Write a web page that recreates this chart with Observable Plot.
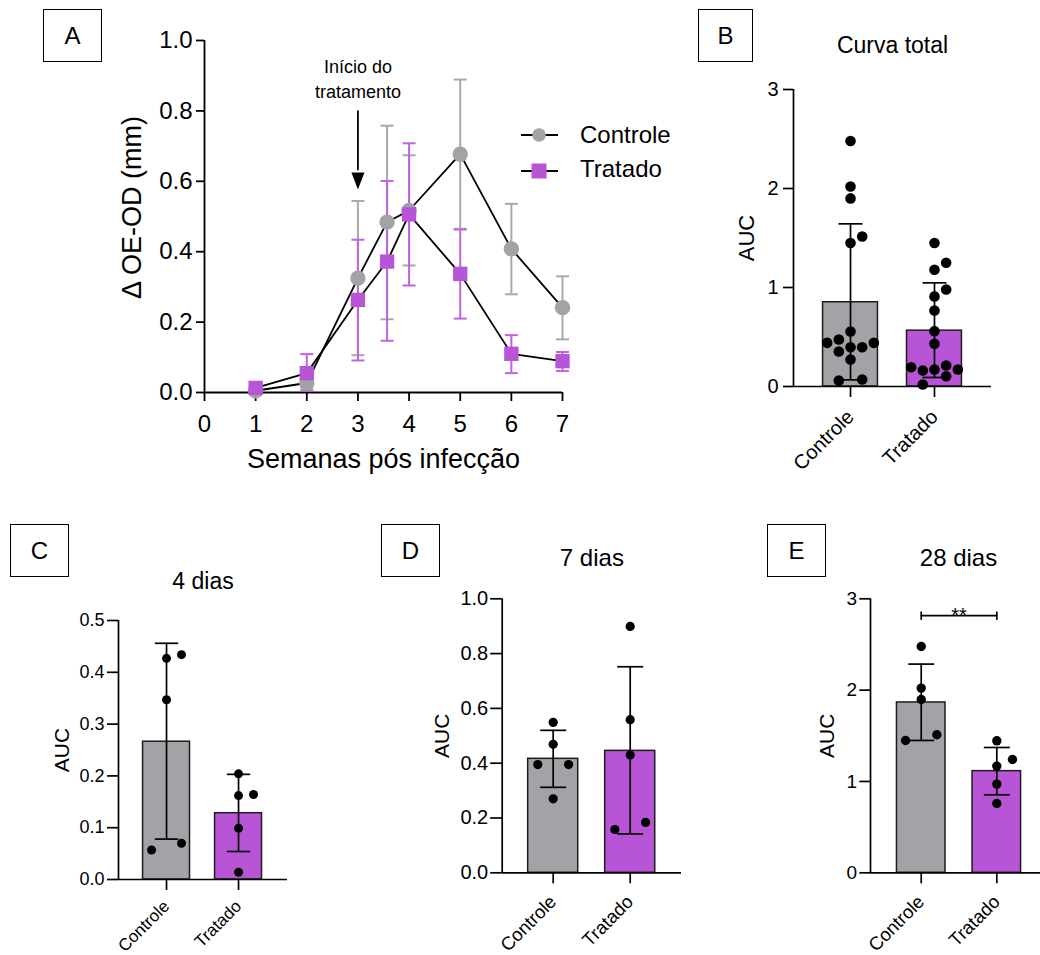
<!DOCTYPE html>
<html><head><meta charset="utf-8">
<script src="https://cdn.jsdelivr.net/npm/d3@7"></script>
<script src="https://cdn.jsdelivr.net/npm/@observablehq/plot@0.6"></script>
<style>
body{margin:0;background:#fff;}
#fig{position:relative;width:1040px;height:955px;font-family:"Liberation Sans",Arial,sans-serif;color:#000;overflow:hidden;}
.box{position:absolute;box-sizing:border-box;border:1.7px solid #000;display:flex;align-items:center;justify-content:center;font-size:24px;line-height:1;}
</style></head><body><div id="fig"></div>
<script>
// ---------- Panel A data (mean and error-bar ends) ----------
const weeks = [1, 2, 3, 3.57, 4, 5, 6, 7];
const controleMean = [0.005, 0.027, 0.325, 0.484, 0.517, 0.677, 0.408, 0.241];
const controleLo   = [0.005, 0.012, 0.106, 0.208, 0.361, 0.465, 0.279, 0.151];
const controleHi   = [0.005, 0.045, 0.544, 0.758, 0.674, 0.889, 0.536, 0.330];
const tratadoMean  = [0.013, 0.055, 0.263, 0.372, 0.506, 0.337, 0.110, 0.089];
const tratadoLo    = [0.013, 0.006, 0.091, 0.147, 0.304, 0.210, 0.055, 0.061];
const tratadoHi    = [0.013, 0.109, 0.434, 0.601, 0.708, 0.463, 0.163, 0.115];
const weekTicks = [0, 1, 2, 3, 4, 5, 6, 7];
const odTicks = [0, 0.2, 0.4, 0.6, 0.8, 1.0];
const seriesNames = ["Controle", "Tratado"];
const xLabelA = "Semanas pós infecção";
const yLabelA = "Δ OE-OD (mm)";
const arrowNote = ["Início do\ntratamento"];
const arrowWeek = [3];
const arrowTop = 0.80, arrowShaftEnd = 0.63, arrowTip = 0.577, noteBase = 0.837;

// ---------- Bar panels ----------
const groups = ["Controle", "Tratado"];
// B: Curva total
const bMean = [0.851, 0.564];
const bLo = [0.067, 0.091];
const bHi = [1.643, 1.047];
const bControle = [2.48, 2.02, 1.90, 1.515, 1.45, 0.556, 0.475, 0.441, 0.441, 0.397, 0.397, 0.354, 0.273, 0.061, 0.071];
const bControleSlot = [0, 0, 0, 1, 0, 0, -1, -2, 2, 0, 1, -1, 0, -1, 1];
const bTratado = [1.45, 1.25, 1.18, 0.98, 0.91, 0.768, 0.559, 0.431, 0.195, 0.162, 0.172, 0.212, 0.172, 0.104, 0.020];
const bTratadoSlot = [0, 1, 0, 1, 0, 0, 0, 0, -2, -1, 0, 1, 2, 1, -1];
// C: 4 dias
const cMean = [0.266, 0.128];
const cLo = [0.078, 0.054];
const cHi = [0.456, 0.203];
const cControle = [0.427, 0.434, 0.347, 0.057, 0.070];
const cControleSlot = [0, 1, 0, -1, 1];
const cTratado = [0.204, 0.162, 0.164, 0.099, 0.014];
const cTratadoSlot = [0, 0, 1, 0, 0];
// D: 7 dias
const dMean = [0.416, 0.445];
const dLo = [0.312, 0.142];
const dHi = [0.520, 0.752];
const dControle = [0.549, 0.469, 0.395, 0.395, 0.270];
const dControleSlot = [0, 0, -1, 1, 0];
const dTratado = [0.899, 0.559, 0.430, 0.158, 0.184];
const dTratadoSlot = [0, 0, 0, -1, 1];
// E: 28 dias
const eMean = [1.865, 1.113];
const eLo = [1.449, 0.854];
const eHi = [2.285, 1.372];
const eControle = [2.478, 2.022, 1.898, 1.449, 1.511];
const eControleSlot = [0, 0, 0, -1, 1];
const eTratado = [1.445, 1.241, 1.168, 0.971, 0.759];
const eTratadoSlot = [0, 1, 0, 0, 0];
const eSigLevel = [2.815];
const eSigText = "**";

// ---------- styles ----------
const GRAY = "#a3a3a7", PURPLE = "#b855d6";
const GRAY_ERR = "#a9a9ab", PURPLE_ERR = "#c262de";
const FONT = "'Liberation Sans', Arial, sans-serif";
const fig = document.getElementById("fig");

const hline = {draw(ctx, size) { const r = Math.sqrt(size / Math.PI); ctx.moveTo(-r, 0); ctx.lineTo(r, 0); }};
const vline = {draw(ctx, size) { const r = Math.sqrt(size / Math.PI); ctx.moveTo(0, -r); ctx.lineTo(0, r); }};
const downTri = {draw(ctx, size) { const r = Math.sqrt(size / Math.PI); ctx.moveTo(-r, -2.6 * r); ctx.lineTo(r, -2.6 * r); ctx.lineTo(0, 0); ctx.closePath(); }};

function place(svg, left, top) {
  svg.style.position = "absolute";
  svg.style.left = left + "px";
  svg.style.top = top + "px";
  svg.style.background = "none";
  svg.style.maxWidth = "none";
  svg.style.overflow = "visible";
  fig.appendChild(svg);
}
function box(letter, left, top, w, h) {
  const d = document.createElement("div");
  d.className = "box";
  d.style.left = left + "px"; d.style.top = top + "px";
  d.style.width = w + "px"; d.style.height = h + "px";
  d.textContent = letter;
  fig.appendChild(d);
}

// ---------- Panel A ----------
const ctrl = weeks.map((w, i) => ({week: w, mean: controleMean[i], lo: controleLo[i], hi: controleHi[i]}));
const trat = weeks.map((w, i) => ({week: w, mean: tratadoMean[i], lo: tratadoLo[i], hi: tratadoHi[i]}));
const hasErr = d => d.hi > d.lo;

const plotA = Plot.plot({
  width: 700, height: 480,
  marginLeft: 204, marginRight: 138, marginTop: 40, marginBottom: 88,
  x: {domain: [0, 7]},
  y: {domain: [0, 1]},
  style: {fontFamily: FONT, color: "#000"},
  marks: [
    Plot.ruleY([0], {x1: 0, x2: 7, stroke: "#000", strokeWidth: 1.8}),
    Plot.ruleX([0], {y1: 0, y2: 1, stroke: "#000", strokeWidth: 1.8}),
    Plot.axisX({ticks: weekTicks, tickSize: 9, tickPadding: 13, fontSize: 24, label: null, strokeWidth: 1.8, tickFormat: d3.format("d")}),
    Plot.axisY({ticks: odTicks, tickSize: 8, tickPadding: 4, fontSize: 24, label: null, strokeWidth: 1.8, tickFormat: d3.format(".1f")}),
    Plot.text([xLabelA], {text: d => d, frameAnchor: "bottom", dy: 75, lineAnchor: "bottom", fontSize: 27}),
    Plot.text([yLabelA], {text: d => d, frameAnchor: "middle", rotate: -90, dx: 140 - 383, dy: -9, lineAnchor: "bottom", fontSize: 27}),
    Plot.line(ctrl, {x: "week", y: "mean", stroke: "#000", strokeWidth: 1.8}),
    Plot.line(trat, {x: "week", y: "mean", stroke: "#000", strokeWidth: 1.8}),
    Plot.ruleX(ctrl, {filter: hasErr, x: "week", y1: "lo", y2: "hi", stroke: GRAY_ERR, strokeWidth: 2}),
    Plot.dot(ctrl, {filter: hasErr, x: "week", y: "hi", symbol: hline, r: 6.5, fill: "none", stroke: GRAY_ERR, strokeWidth: 2}),
    Plot.dot(ctrl, {filter: hasErr, x: "week", y: "lo", symbol: hline, r: 6.5, fill: "none", stroke: GRAY_ERR, strokeWidth: 2}),
    Plot.ruleX(trat, {filter: hasErr, x: "week", y1: "lo", y2: "hi", stroke: PURPLE_ERR, strokeWidth: 2}),
    Plot.dot(trat, {filter: hasErr, x: "week", y: "hi", symbol: hline, r: 6.5, fill: "none", stroke: PURPLE_ERR, strokeWidth: 2}),
    Plot.dot(trat, {filter: hasErr, x: "week", y: "lo", symbol: hline, r: 6.5, fill: "none", stroke: PURPLE_ERR, strokeWidth: 2}),
    Plot.dot(ctrl, {x: "week", y: "mean", r: 7.7, fill: GRAY, stroke: "none"}),
    Plot.dot(trat, {x: "week", y: "mean", symbol: "square", r: 8.1, fill: PURPLE, stroke: "none"}),
    Plot.ruleX(arrowWeek, {x: d => d, y1: arrowTop, y2: arrowShaftEnd, stroke: "#000", strokeWidth: 1.8}),
    Plot.dot(arrowWeek, {x: d => d, y: arrowTip, symbol: downTri, r: 6.5, fill: "#000", stroke: "none"}),
    Plot.text(arrowNote, {x: arrowWeek[0], y: noteBase, text: d => d, lineAnchor: "bottom", lineHeight: 1.39, fontSize: 18})
  ]
});
place(plotA, 0, 0);

// legend for A
const leg = d3.select(fig).append("svg")
  .attr("width", 200).attr("height", 80)
  .style("position", "absolute").style("left", "500px").style("top", "110px").style("overflow", "visible");
leg.append("line").attr("x1", 21).attr("x2", 58).attr("y1", 25).attr("y2", 25).attr("stroke", "#000").attr("stroke-width", 1.8);
leg.append("circle").attr("cx", 39).attr("cy", 25).attr("r", 6.8).attr("fill", GRAY);
leg.append("text").attr("x", 80).attr("y", 33.3).attr("font-size", 24).attr("font-family", FONT).text(seriesNames[0]);
leg.append("line").attr("x1", 21).attr("x2", 58).attr("y1", 61).attr("y2", 61).attr("stroke", "#000").attr("stroke-width", 1.8);
leg.append("rect").attr("x", 31.5).attr("y", 53.5).attr("width", 15).attr("height", 15).attr("fill", PURPLE);
leg.append("text").attr("x", 80).attr("y", 66.7).attr("font-size", 24).attr("font-family", FONT).text(seriesNames[1]);

// ---------- Bar panels ----------
function barPanel(p) {
  const bars = groups.map((g, i) => ({pos: i + 1, mean: p.mean[i], lo: p.lo[i], hi: p.hi[i], color: i ? PURPLE : GRAY}));
  const pts = [
    ...p.ctrl.map((v, j) => ({pos: 1 + p.ctrlSlot[j] * p.slot, v})),
    ...p.trat.map((v, j) => ({pos: 2 + p.tratSlot[j] * p.slot, v}))
  ];
  const extra = p.extra ? p.extra() : [];
  const frameHalf = (p.w - p.mL - p.mR) / 2;
  const svg = Plot.plot({
    width: p.w, height: p.h,
    marginLeft: p.mL, marginRight: p.mR, marginTop: p.mT, marginBottom: p.mB,
    x: {type: "linear", domain: p.xDomain},
    y: {domain: p.yDomain},
    color: {type: "identity"},
    style: {fontFamily: FONT, color: "#000"},
    marks: [
      Plot.rectY(bars, {x1: d => d.pos - p.half, x2: d => d.pos + p.half, y1: 0, y2: "mean", fill: "color", stroke: "#1c1c1c", strokeWidth: 1.5}),
      Plot.ruleY([0], {stroke: "#000", strokeWidth: 1.7}),
      Plot.ruleX([p.xDomain[0]], {stroke: "#000", strokeWidth: 1.7}),
      Plot.axisY({ticks: p.yTicks, tickSize: p.yTickSize, tickPadding: p.yPad, fontSize: p.yFont, label: null, strokeWidth: 1.7, tickFormat: p.yFmt}),
      Plot.axisX({ticks: [1, 2], tickSize: 11, tickPadding: p.xPad, tickRotate: -45, fontSize: p.xFont, label: null, strokeWidth: 1.7, tickFormat: d => groups[Math.round(d) - 1]}),
      Plot.ruleX(bars, {x: "pos", y1: "lo", y2: "hi", stroke: "#000", strokeWidth: 1.7}),
      Plot.dot(bars, {x: "pos", y: "hi", symbol: hline, r: p.capR, fill: "none", stroke: "#000", strokeWidth: 1.7}),
      Plot.dot(bars, {x: "pos", y: "lo", symbol: hline, r: p.capR, fill: "none", stroke: "#000", strokeWidth: 1.7}),
      Plot.dot(pts, {x: "pos", y: "v", r: p.dotR, fill: "#000", stroke: "none"}),
      Plot.text([p.title], {text: d => d, frameAnchor: "top", dx: p.titleDx || 0, dy: p.titleDy, lineAnchor: "bottom", fontSize: p.titleFont}),
      Plot.text(["AUC"], {text: d => d, frameAnchor: "middle", rotate: -90, dx: p.aucDx - frameHalf, lineAnchor: "bottom", fontSize: p.aucFont}),
      ...extra
    ]
  });
  place(svg, p.left, p.top);
}

barPanel({left: 690, top: 0, w: 350, h: 480, mL: 103, mR: 49, mT: 89, mB: 94,
  xDomain: [0.321, 2.679], yDomain: [0, 3], yTicks: [0, 1, 2, 3], yFmt: d3.format("d"),
  yFont: 20, yTickSize: 10, yPad: 5, xFont: 20, xPad: 16, half: 0.327, slot: 0.139, dotR: 5.3, capR: 12,
  title: "Curva total", titleFont: 23, titleDy: -36.7, aucDx: -40, aucFont: 22,
  mean: bMean, lo: bLo, hi: bHi, ctrl: bControle, ctrlSlot: bControleSlot, trat: bTratado, tratSlot: bTratadoSlot});

barPanel({left: 0, top: 510, w: 350, h: 445, mL: 118, mR: 63, mT: 110, mB: 76,
  xDomain: [0.333, 2.68], yDomain: [0, 0.5], yTicks: [0, 0.1, 0.2, 0.3, 0.4, 0.5], yFmt: d3.format(".1f"),
  yFont: 18, yTickSize: 11, yPad: 3, xFont: 17, xPad: 13, half: 0.326, slot: 0.208, dotR: 4.5, capR: 11.7,
  title: "4 dias", titleFont: 23, titleDy: -31.7, aucDx: -50, aucFont: 21,
  mean: cMean, lo: cLo, hi: cHi, ctrl: cControle, ctrlSlot: cControleSlot, trat: cTratado, tratSlot: cTratadoSlot});

barPanel({left: 360, top: 510, w: 340, h: 445, mL: 141.7, mR: 19, mT: 88.3, mB: 82.7,
  xDomain: [0.338, 2.666], yDomain: [0, 1], yTicks: [0, 0.2, 0.4, 0.6, 0.8, 1.0], yFmt: d3.format(".1f"),
  yFont: 20, yTickSize: 11.5, yPad: 2.5, xFont: 18.5, xPad: 15, half: 0.325, slot: 0.2, dotR: 4.6, capR: 13,
  title: "7 dias", titleFont: 24, titleDy: -33.3, aucDx: -53.7, aucFont: 21,
  mean: dMean, lo: dLo, hi: dHi, ctrl: dControle, ctrlSlot: dControleSlot, trat: dTratado, tratSlot: dTratadoSlot});

barPanel({left: 700, top: 510, w: 340, h: 445, mL: 170, mR: 0, mT: 88.3, mB: 82.7,
  xDomain: [0.329, 2.578], yDomain: [0, 3], yTicks: [0, 1, 2, 3], yFmt: d3.format("d"),
  yFont: 19, yTickSize: 10.7, yPad: 2.7, xFont: 18.5, xPad: 15, half: 0.321, slot: 0.207, dotR: 4.7, capR: 13,
  title: "28 dias", titleFont: 24, titleDx: 3, titleDy: -33.3, aucDx: -37, aucFont: 21,
  mean: eMean, lo: eLo, hi: eHi, ctrl: eControle, ctrlSlot: eControleSlot, trat: eTratado, tratSlot: eTratadoSlot,
  extra: () => [
    Plot.ruleY(eSigLevel, {y: d => d, x1: 1, x2: 2, stroke: "#000", strokeWidth: 1.7}),
    Plot.dot([1, 2], {x: d => d, y: eSigLevel[0], symbol: vline, r: 4.2, fill: "none", stroke: "#000", strokeWidth: 1.7}),
    Plot.text([eSigText], {text: d => d, x: 1.5, y: eSigLevel[0], lineAnchor: "bottom", dy: 6.7, fontSize: 20})
  ]});

// panel letters
box("A", 43, 9, 59, 53);
box("B", 698, 9, 55, 53);
box("C", 10, 524, 59, 53);
box("D", 381, 524, 59, 53);
box("E", 767, 524, 59, 53);
</script></body></html>
